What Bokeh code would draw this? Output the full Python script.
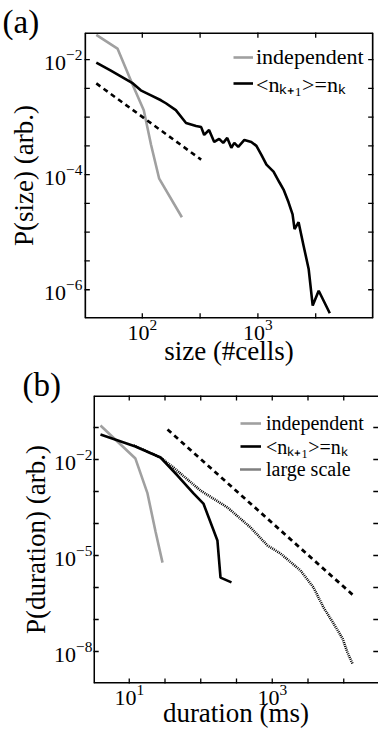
import math
from bokeh.plotting import figure
from bokeh.layouts import column, row
from bokeh.models import FixedTicker, Legend, LegendItem, Range1d
from bokeh.embed import file_html
from bokeh.resources import INLINE

# ---------------- Panel (a): avalanche size ----------------
size_indep_x = [40, 61, 83, 103, 119, 140, 220]
size_indep_y = [2.69e-2, 1.55e-2, 3.55e-3, 1.32e-3, 3.3e-4, 8.5e-5, 1.82e-5]

size_corr_x = [40, 53, 83, 97, 119, 145, 160, 195, 239, 292,
               323, 343, 378, 419, 462, 501, 543, 589, 625, 676,
               764, 877, 971, 1072, 1186, 1365, 1538, 1667, 1841, 1995,
               2075, 2249, 2489, 2748, 2979, 3357, 4188]
size_corr_y = [8.87e-3, 6.46e-3, 3.85e-3, 2.92e-3, 2.39e-3, 1.96e-3, 1.74e-3, 1.32e-3, 7.9e-4, 7.0e-4,
               6.7e-4, 4.9e-4, 5.97e-4, 3.7e-4, 4.18e-4, 3.56e-4, 4.35e-4, 2.92e-4, 3.56e-4, 3.04e-4,
               4.0e-4, 3.7e-4, 3.16e-4, 2.21e-4, 1.49e-4, 1.13e-4, 7.3e-5, 5.5e-5, 3.3e-5, 2.04e-5,
               1.13e-5, 1.49e-5, 5.7e-6, 2.3e-6, 5.3e-7, 9.6e-7, 3.9e-7]

size_fit_x = [40, 323]
size_fit_y = [3.85e-3, 1.82e-4]

# ---------------- Panel (b): avalanche duration ----------------
dur_indep_x = [3.96, 12.2, 18.0, 23.3, 29.2]
dur_indep_y = [0.1155, 1.07e-2, 8.7e-4, 5.6e-5, 6.0e-6]

dur_corr_x = [3.96, 12.2, 27.4, 47.3, 79.2, 109, 146, 171, 189, 269]
dur_corr_y = [6.0e-2, 2.55e-2, 1.155e-2, 3.16e-3, 8.7e-4, 4.2e-4, 7.5e-5, 2.95e-5, 2.04e-6, 1.45e-6]

dur_large_x = [11.5, 27.4, 41.6, 99.3, 237, 497, 859, 1303, 2483, 3776, 5212, 7194, 9616, 11272, 13243]
dur_large_y = [2.74e-2, 1.155e-2, 5.6e-3, 1.07e-3, 3.16e-4, 7.5e-5, 2.05e-5, 1.155e-5, 3.4e-6, 1.0e-6,
               2.37e-7, 7.5e-8, 2.55e-8, 9.3e-9, 4.2e-9]

dur_fit_x = [34.3, 13243]
dur_fit_y = [8.66e-2, 6.0e-7]

# ---------------- axis ranges and ticks (exponents of 10) ----------------
a_x_lim_exp = (1.5, 4.0)
a_y_lim_exp = (-6.5, -1.53)
a_x_label_exp = [2, 3]
a_x_tick_exp = [1.5, 2, 2.5, 3, 3.5, 4]
a_y_label_exp = [-6, -4, -2]
a_y_tick_exp = [-6.5, -6, -5.5, -5, -4.5, -4, -3.5, -3, -2.5, -2, -1.5]

b_x_lim_exp = (0.5, 4.486)
b_y_lim_exp = (-9.0, 0.0)
b_x_label_exp = [1, 3]
b_x_tick_exp = [0.5, 1, 1.5, 2, 2.5, 3, 3.5, 4, 4.5]
b_y_label_exp = [-8, -5, -2]
b_y_tick_exp = [-9, -8, -7, -6, -5, -4, -3, -2, -1, 0]

legend_labels = ["independent", "<nₖ₊₁>=nₖ", "large scale"]

FONT = "Liberation Serif"
GRAY = "#a0a0a0"
EPS = 0.003  # keep frame marks a hair inside the ranges (in decades)


def pw(exps):
    return [10.0 ** e for e in exps]


def style_axis(ax, label_exp, tick_standoff, label_standoff):
    ax.ticker = FixedTicker(ticks=pw(label_exp))
    ax.axis_line_color = None
    ax.major_tick_line_color = None
    ax.minor_tick_line_color = None
    ax.major_tick_in = 0
    ax.major_tick_out = 0
    ax.minor_tick_in = 0
    ax.minor_tick_out = 0
    ax.major_label_text_font = FONT
    ax.major_label_text_font_size = "22px"
    ax.major_label_text_color = "black"
    ax.major_label_standoff = tick_standoff
    ax.axis_label_text_font = FONT
    ax.axis_label_text_font_size = "27px"
    ax.axis_label_text_font_style = "normal"
    ax.axis_label_text_color = "black"
    ax.axis_label_standoff = label_standoff


def make_fig(height, xl, yl, left, right, top, bottom, tag, tag_offset, tag_standoff):
    p = figure(width=378, height=height, x_axis_type="log", y_axis_type="log",
               x_range=Range1d(10 ** xl[0], 10 ** xl[1]),
               y_range=Range1d(10 ** yl[0], 10 ** yl[1]),
               output_backend="svg", toolbar_location=None, title=tag,
               min_border_left=left, min_border_right=right,
               min_border_top=top, min_border_bottom=bottom)
    p.outline_line_color = None
    p.grid.visible = False
    p.title.text_font = FONT
    p.title.text_font_size = "33px"
    p.title.text_font_style = "normal"
    p.title.text_color = "black"
    p.title.align = "left"
    p.title.offset = tag_offset
    p.title.standoff = tag_standoff
    return p


def draw_frame(p, xl, yl, x_ticks, y_ticks, right_edge=True):
    x0, x1 = 10 ** (xl[0] + EPS), 10 ** (xl[1] - EPS)
    y0, y1 = 10 ** (yl[0] + EPS), 10 ** (yl[1] - EPS)
    xs = [[x0, x0], [x0, x1], [x0, x1]]
    ys = [[y0, y1], [y0, y0], [y1, y1]]
    if right_edge:
        xs.append([x1, x1])
        ys.append([y0, y1])
    for x_pair, y_pair in zip(xs, ys):
        p.line(x_pair, y_pair, line_color="black", line_width=2.6)
    tx = [v for v in pw(x_ticks) if x0 <= v <= x1]
    p.scatter(tx + tx, [y0] * len(tx) + [y1] * len(tx), marker="dash", size=10,
              angle=math.pi / 2, line_color="black", line_width=1.3)
    ty = [v for v in pw(y_ticks) if y0 <= v <= y1]
    p.scatter([x0] * len(ty) + [x1] * len(ty), ty + ty, marker="dash", size=10,
              line_color="black", line_width=1.3)


def item_legend(label, renderer, x, y, glyph_w, standoff, size, h):
    return Legend(items=[LegendItem(label=label, renderers=[renderer])],
                  location=(x, y), padding=0, margin=0, spacing=0,
                  glyph_width=glyph_w, glyph_height=h, label_height=h,
                  label_standoff=standoff, label_text_font=FONT,
                  label_text_font_size=size, label_text_color="black",
                  background_fill_color=None, border_line_color=None)


# ---------------- figure (a) ----------------
pa = make_fig(372, a_x_lim_exp, a_y_lim_exp, 84, 5, 32, 54, "(a)", -82, -15)
pa.xaxis[0].axis_label = "size (#cells)"
pa.yaxis[0].axis_label = "P(size) (arb.)"
style_axis(pa.xaxis[0], a_x_label_exp, 1, -7)
style_axis(pa.yaxis[0], a_y_label_exp, 2, 2)

ra1 = pa.line(size_indep_x, size_indep_y, line_color=GRAY, line_width=2.6)
ra2 = pa.line(size_corr_x, size_corr_y, line_color="black", line_width=2.6)
pa.line(size_fit_x, size_fit_y, line_color="black", line_width=2.6, line_dash="5 4")
draw_frame(pa, a_x_lim_exp, a_y_lim_exp, a_x_tick_exp, a_y_tick_exp)

pa.add_layout(item_legend(legend_labels[0], ra1, 149, 246, 20, 3, "22px", 30))
pa.add_layout(item_legend(legend_labels[1], ra2, 149, 220, 20, 3, "22px", 30))

# ---------------- figure (b) ----------------
pb = make_fig(358, b_x_lim_exp, b_y_lim_exp, 93, 0, 23, 47, "(b)", -71, -15)
pb.xaxis[0].axis_label = "duration (ms)"
pb.yaxis[0].axis_label = "P(duration) (arb.)"
style_axis(pb.xaxis[0], b_x_label_exp, 1, -10)
style_axis(pb.yaxis[0], b_y_label_exp, 1, 0)

rb1 = pb.line(dur_indep_x, dur_indep_y, line_color=GRAY, line_width=2.6)
rb2 = pb.line(dur_corr_x, dur_corr_y, line_color="black", line_width=2.6)
rb3 = pb.line(dur_large_x, dur_large_y, line_color="black", line_width=2.6, line_dash="1 1")
pb.line(dur_fit_x, dur_fit_y, line_color="black", line_width=2.8, line_dash="5 4")
draw_frame(pb, b_x_lim_exp, b_y_lim_exp, b_x_tick_exp, b_y_tick_exp, right_edge=False)

pb.add_layout(item_legend(legend_labels[0], rb1, 147, 245, 21, 5, "20px", 30))
pb.add_layout(item_legend(legend_labels[1], rb2, 147, 222, 21, 5, "20px", 30))
pb.add_layout(item_legend(legend_labels[2], rb3, 147, 199, 21, 5, "20px", 30))

layout = column(row(pa), row(pb), spacing=0)
open("out.html", "w").write(file_html(layout, INLINE))
